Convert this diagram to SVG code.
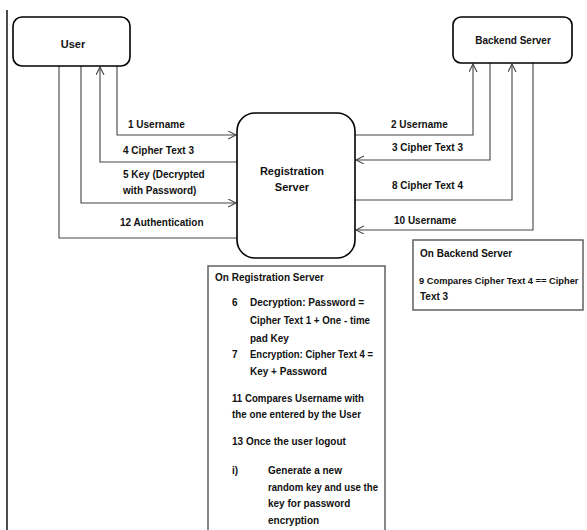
<svg xmlns="http://www.w3.org/2000/svg" width="587" height="530" viewBox="0 0 587 530">
<style>
text{font-family:"Liberation Sans",Arial,sans-serif;font-weight:bold;font-size:10px;fill:#111}
.node{fill:#fff;stroke:#000;stroke-width:1.6}
.note{fill:#fff;stroke:#555;stroke-width:1.4}
.conn{fill:none;stroke:#444;stroke-width:1.1}
.big{font-size:11px}
</style>
<defs>
<marker id="arr" markerWidth="10" markerHeight="10" refX="8" refY="4" orient="auto" markerUnits="userSpaceOnUse">
<path d="M0,0 L8,4 L0,8" fill="none" stroke="#444" stroke-width="1.1"/>
</marker>
</defs>
<rect width="587" height="530" fill="#fff"/>
<line x1="7" y1="10" x2="7" y2="530" stroke="#000" stroke-width="1.4"/>

<g id="connectors">
<polyline class="conn" points="117,66 117,135 236,135" marker-end="url(#arr)"/>
<polyline class="conn" points="237,162 100,162 100,67" marker-end="url(#arr)"/>
<polyline class="conn" points="81,66 81,203 236,203" marker-end="url(#arr)"/>
<polyline class="conn" points="59,66 59,238 237,238"/>
<polyline class="conn" points="355,135 473,135 473,64" marker-end="url(#arr)"/>
<polyline class="conn" points="490,63 490,160 356,160" marker-end="url(#arr)"/>
<polyline class="conn" points="355,200 512,200 512,64" marker-end="url(#arr)"/>
<polyline class="conn" points="533,63 533,230 356,230" marker-end="url(#arr)"/>
<text x="128" y="128">1 Username</text>
<text x="123" y="154">4 Cipher Text 3</text>
<text x="123" y="178">5 Key (Decrypted</text>
<text x="123" y="194">with Password)</text>
<text x="120" y="226">12 Authentication</text>
<text x="391" y="128">2 Username</text>
<text x="392" y="151">3 Cipher Text 3</text>
<text x="392" y="189">8 Cipher Text 4</text>
<text x="394" y="224">10 Username</text>
</g>

<g id="user">
<rect class="node" x="13" y="17" width="117" height="49" rx="9"/>
<text x="73" y="48" text-anchor="middle" class="big">User</text>
</g>

<g id="backend">
<rect class="node" x="453" y="17" width="119" height="46" rx="8"/>
<text x="513" y="44" text-anchor="middle">Backend Server</text>
</g>

<g id="registration">
<rect class="node" x="237" y="113" width="118" height="145" rx="18"/>
<text x="292" y="175" text-anchor="middle" class="big">Registration</text>
<text x="292" y="191" text-anchor="middle" class="big">Server</text>
</g>

<g id="reg-note">
<rect class="note" x="208" y="266" width="177" height="270"/>
<text x="215" y="281">On Registration Server</text>
<text x="232" y="306">6</text>
<text x="250" y="306">Decryption: Password =</text>
<text x="250" y="324" textLength="120" lengthAdjust="spacingAndGlyphs">Cipher Text 1 + One - time</text>
<text x="250" y="342">pad Key</text>
<text x="232" y="358">7</text>
<text x="250" y="358" textLength="123" lengthAdjust="spacingAndGlyphs">Encryption: Cipher Text 4 =</text>
<text x="250" y="375">Key + Password</text>
<text x="232" y="402" textLength="132" lengthAdjust="spacingAndGlyphs">11 Compares Username with</text>
<text x="232" y="418" textLength="129" lengthAdjust="spacingAndGlyphs">the one entered by the User</text>
<text x="232" y="445">13 Once the user logout</text>
<text x="232" y="474">i)</text>
<text x="268" y="474">Generate a new</text>
<text x="268" y="491" textLength="110" lengthAdjust="spacingAndGlyphs">random key and use the</text>
<text x="268" y="507">key for password</text>
<text x="268" y="524">encryption</text>
</g>

<g id="backend-note">
<rect class="note" x="413" y="240" width="170" height="70"/>
<text x="420" y="257">On Backend Server</text>
<text x="419" y="284" style="font-size:9.3px">9 Compares Cipher Text 4 == Cipher</text>
<text x="420" y="300">Text 3</text>
</g>
</svg>
